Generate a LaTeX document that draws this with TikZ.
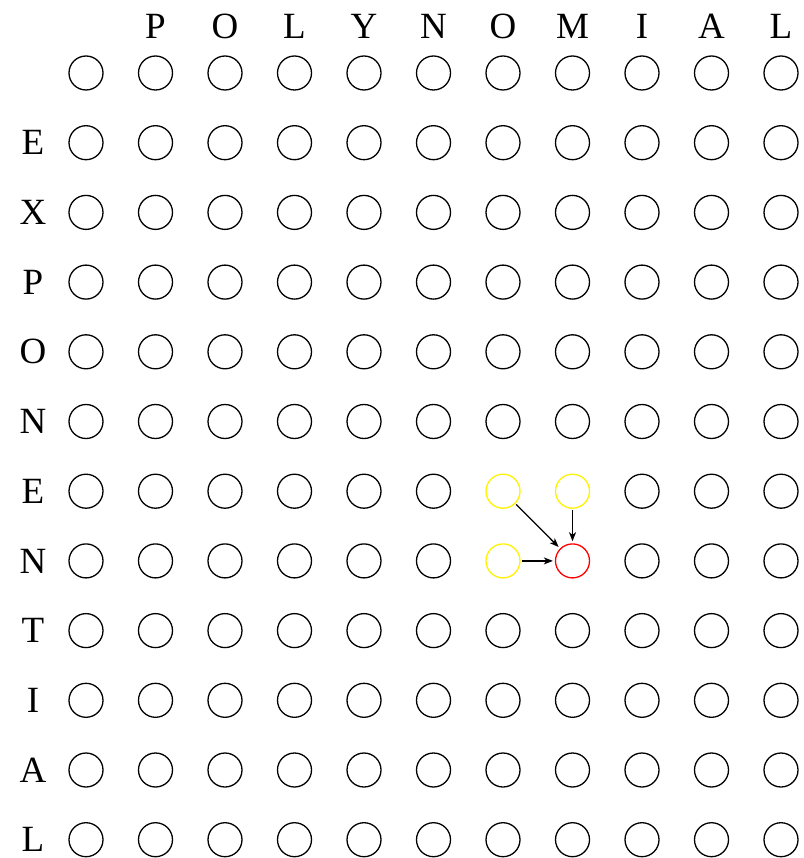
\documentclass[tikz,border=0pt]{standalone}
\usepackage{fontspec}
\setmainfont{Liberation Serif}
\usetikzlibrary{arrows.meta}
\begin{document}
\begin{tikzpicture}[x=1pt,y=-1pt,
  cell/.style={circle,draw,line width=1.3pt,minimum size=34pt,inner sep=0pt},
  pre/.style={cell,draw=yellow},
  cur/.style={cell,draw=red},
  lbl/.style={font=\fontsize{37}{40}\selectfont,inner sep=0pt},
  dep/.style={line width=1.3pt,-{Stealth[length=9pt,width=7pt,inset=2.5pt]},shorten <=1pt,shorten >=2pt}]
\useasboundingbox (0,0) rectangle (803,858);
\foreach \r in {1,...,12}{
  \foreach \c in {1,...,11}{
    \pgfmathsetmacro{\xx}{86+(\c-1)*69.5}
    \pgfmathsetmacro{\yy}{73+(\r-1)*69.7}
    \ifnum\r=7 \ifnum\c=7 \def\st{pre}\else\ifnum\c=8 \def\st{pre}\else\def\st{cell}\fi\fi
    \else\ifnum\r=8 \ifnum\c=7 \def\st{pre}\else\ifnum\c=8 \def\st{cur}\else\def\st{cell}\fi\fi
    \else\def\st{cell}\fi\fi
    \node[\st] (n-\r-\c) at (\xx,\yy) {};
  }
}
\foreach \t [count=\i from 2] in {P,O,L,Y,N,O,M,I,A,L}{
  \pgfmathsetmacro{\xx}{86+(\i-1)*69.5}
  \node[lbl] (t\i) at (\xx,26) {\t};
}
\foreach \t [count=\i from 2] in {E,X,P,O,N,E,N,T,I,A,L}{
  \pgfmathsetmacro{\yy}{73+(\i-1)*69.7}
  \node[lbl] (l\i) at (33,\yy) {\t};
}
\draw[dep] (n-7-7) -- (n-8-8);
\draw[dep] (n-7-8) -- (n-8-8);
\draw[dep] (n-8-7) -- (n-8-8);
\end{tikzpicture}
\end{document}
